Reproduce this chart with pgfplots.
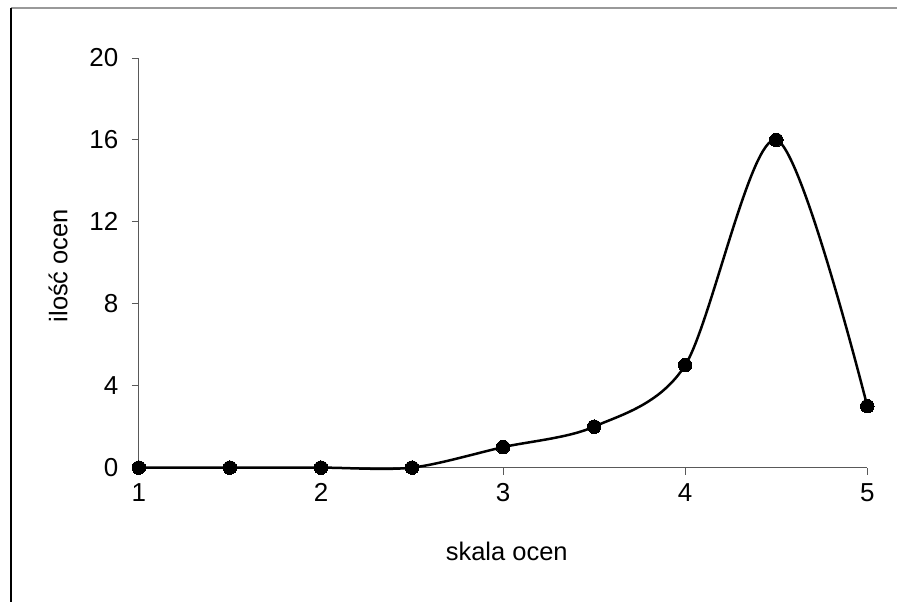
\documentclass[border=0pt]{standalone}
\usepackage{pgfplots}
\pgfplotsset{compat=1.18}
\usepackage{fontspec}
\setmainfont{Liberation Sans}
\begin{document}
\begin{tikzpicture}[x=1pt,y=1pt]
\path (-139,-134) rectangle (759,468);
\begin{axis}[
  at={(0,0)}, anchor=origin,
  scale only axis, width=729pt, height=410pt,
  xmin=1, xmax=5, ymin=0, ymax=20,
  axis lines*=left,
  axis line style={black!65, line width=0.9pt},
  xtick={1,2,3,4,5}, ytick={0,4,8,12,16,20},
  tick align=outside, major tick length=7pt,
  tick style={black!65, line width=0.9pt},
  /pgf/number format/assume math mode=true,
  xticklabel style={font=\fontsize{26}{30}\selectfont, anchor=north, yshift=-5pt},
  yticklabel style={font=\fontsize{26}{30}\selectfont, anchor=east, xshift=-10pt},
  xlabel={skala ocen}, ylabel={ilość ocen},
  xlabel style={at={(axis description cs:0.505,-0.205)}, anchor=center, font=\fontsize{25.5}{29}\selectfont},
  ylabel style={at={(axis description cs:-0.111,0.493)}, anchor=center, font=\fontsize{25.5}{29}\selectfont},
  clip=false,
]
\addplot[black, line width=2.5pt, smooth, tension=0.5, mark=*, mark size=6.8pt, mark options={solid, line width=0pt}] coordinates {
(1,0) (1.5,0) (2,0) (2.5,0) (3,1) (3.5,2) (4,5) (4.5,16) (5,3)
};
\end{axis}
\draw[black!40, line width=1.5pt] (-128,460) -- (759,460);
\draw[black, line width=1.5pt] (-128,460) -- (-128,-134);
\end{tikzpicture}
\end{document}
